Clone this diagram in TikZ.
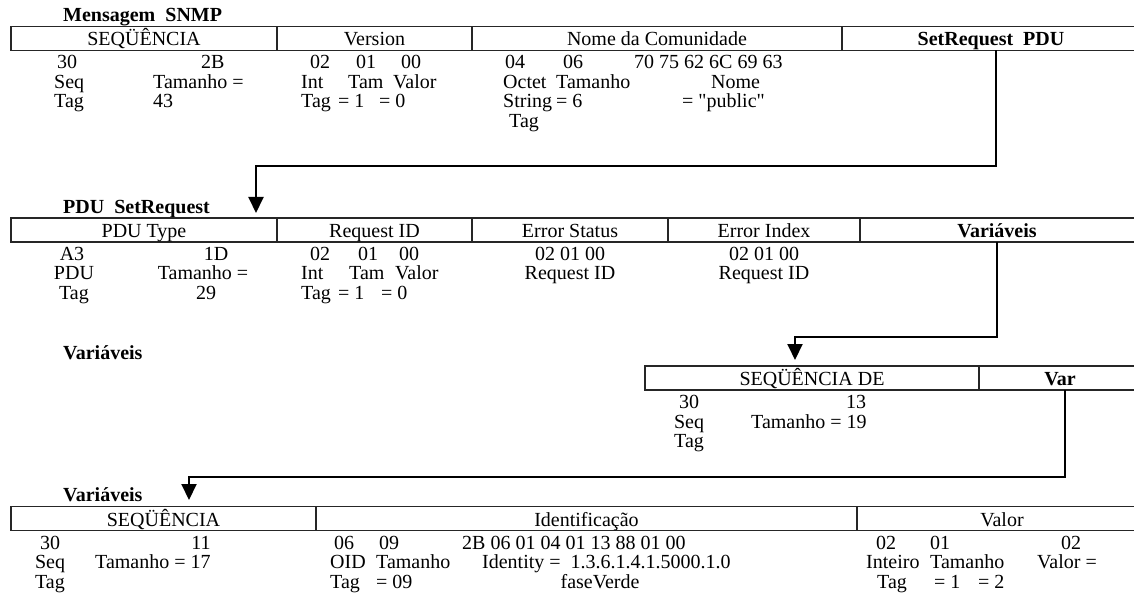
\documentclass[tikz,border=0pt]{standalone}
\usepackage{fontspec}
\setmainfont{Liberation Serif}
\newfontfamily\plainq{Liberation Serif}
\usetikzlibrary{arrows.meta}
\begin{document}
\begin{tikzpicture}[x=1pt,y=-1pt,
  txt/.style={inner sep=0pt, anchor=base west, font=\fontsize{20}{24}\selectfont},
  ctxt/.style={inner sep=0pt, anchor=base, font=\fontsize{20}{24}\selectfont},
  btxt/.style={inner sep=0pt, anchor=base, font=\fontsize{20}{24}\selectfont\bfseries},
  ttl/.style={inner sep=0pt, anchor=base west, font=\fontsize{20}{24}\selectfont\bfseries},
  bar/.style={line width=1.6pt, draw=black!85},
  conn/.style={line width=2pt, -{Triangle[width=15pt,length=16pt]}, line join=miter},
]
\useasboundingbox (0,0) rectangle (1134,601);

% ---------- Row 1 : Mensagem SNMP ----------
\node[ttl] (t1) at (63,22) {Mensagem\ \ SNMP};
\draw[bar] (1134,26.5) -- (11,26.5) -- (11,50.5) -- (1134,50.5);
\draw[bar] (277,26.5) -- (277,50.5);
\draw[bar] (472,26.5) -- (472,50.5);
\draw[bar] (842,26.5) -- (842,50.5);
\node[ctxt] (h11) at (144,46) {SEQÜÊNCIA};
\node[ctxt] (h12) at (374.5,46) {Version};
\node[ctxt] (h13) at (657,46) {Nome da Comunidade};
\node[btxt] (h14) at (991,46) {SetRequest\ \ PDU};

\node[txt] (d1a) at (57,69) {30};
\node[txt] (d1b) at (201,69) {2B};
\node[txt] (d1c) at (54,88.5) {Seq};
\node[txt] (d1d) at (153,88.5) {Tamanho =};
\node[txt] (d1e) at (54,108) {Tag};
\node[txt] (d1f) at (153,108) {43};

\node[txt] (v1a) at (310,69) {02};
\node[txt] (v1b) at (356,69) {01};
\node[txt] (v1c) at (401,69) {00};
\node[txt] (v1d) at (301,88.5) {Int};
\node[txt] (v1e) at (348,88.5) {Tam};
\node[txt] (v1f) at (393,88.5) {Valor};
\node[txt] (v1g) at (301,108) {Tag};
\node[txt] (v1h) at (338,108) {= 1};
\node[txt] (v1i) at (379,108) {= 0};

\node[txt] (c1a) at (505,69) {04};
\node[txt] (c1b) at (563,69) {06};
\node[txt] (c1c) at (634,69) {70 75 62 6C 69 63};
\node[txt] (c1d) at (503,88.5) {Octet};
\node[txt] (c1e) at (556,88.5) {Tamanho};
\node[txt] (c1f) at (711,88.5) {Nome};
\node[txt] (c1g) at (503,108) {String};
\node[txt] (c1h) at (556,108) {= 6};
\node[txt] (c1i) at (682,108) {= {\plainq "public"}};
\node[txt] (c1j) at (509,127.5) {Tag};

% ---------- Row 2 : PDU SetRequest ----------
\node[ttl] (t2) at (63,214) {PDU\ \ SetRequest};
\draw[bar] (1134,218) -- (11,218) -- (11,242) -- (1134,242);
\draw[bar] (277,218) -- (277,242);
\draw[bar] (472,218) -- (472,242);
\draw[bar] (668,218) -- (668,242);
\draw[bar] (860,218) -- (860,242);
\node[ctxt] (h21) at (144,237.5) {PDU Type};
\node[ctxt] (h22) at (374.5,237.5) {Request ID};
\node[ctxt] (h23) at (570,237.5) {Error Status};
\node[ctxt] (h24) at (764,237.5) {Error Index};
\node[btxt] (h25) at (997,237.5) {Variáveis};

\node[ctxt] (d2a) at (72,260.5) {A3};
\node[ctxt] (d2b) at (216,260.5) {1D};
\node[ctxt] (d2c) at (74,280) {PDU};
\node[ctxt] (d2d) at (203,280) {Tamanho =};
\node[ctxt] (d2e) at (74,299.5) {Tag};
\node[ctxt] (d2f) at (206,299.5) {29};

\node[txt] (r2a) at (310,260.5) {02};
\node[txt] (r2b) at (358,260.5) {01};
\node[txt] (r2c) at (399,260.5) {00};
\node[txt] (r2d) at (301,280) {Int};
\node[txt] (r2e) at (349,280) {Tam};
\node[txt] (r2f) at (395,280) {Valor};
\node[txt] (r2g) at (301,299.5) {Tag};
\node[txt] (r2h) at (338,299.5) {= 1};
\node[txt] (r2i) at (381,299.5) {= 0};

\node[ctxt] (e2a) at (570,260.5) {02 01 00};
\node[ctxt] (e2b) at (570,280) {Request ID};
\node[ctxt] (i2a) at (764,260.5) {02 01 00};
\node[ctxt] (i2b) at (764,280) {Request ID};

% ---------- Row 3 : Variaveis ----------
\node[ttl] (t3) at (63,359.5) {Variáveis};
\draw[bar] (1134,366) -- (645,366) -- (645,390) -- (1134,390);
\draw[bar] (979,366) -- (979,390);
\node[ctxt] (h31) at (812,385.5) {SEQÜÊNCIA DE};
\node[btxt] (h32) at (1060,385.5) {Var};

\node[ctxt] (d3a) at (689,408.5) {30};
\node[ctxt] (d3b) at (856,408.5) {13};
\node[ctxt] (d3c) at (689,428) {Seq};
\node[txt] (d3d) at (751,428) {Tamanho = 19};
\node[ctxt] (d3e) at (689,447.5) {Tag};

% ---------- Row 4 : Variaveis ----------
\node[ttl] (t4) at (63,501) {Variáveis};
\draw[bar] (1134,506.5) -- (11,506.5) -- (11,530.5) -- (1134,530.5);
\draw[bar] (316,506.5) -- (316,530.5);
\draw[bar] (857,506.5) -- (857,530.5);
\node[ctxt] (h41) at (163.5,526) {SEQÜÊNCIA};
\node[ctxt] (h42) at (586.5,526) {Identificação};
\node[ctxt] (h43) at (1002,526) {Valor};

\node[ctxt] (d4a) at (50,549) {30};
\node[ctxt] (d4b) at (201,549) {11};
\node[ctxt] (d4c) at (50,568.5) {Seq};
\node[txt] (d4d) at (95,568.5) {Tamanho = 17};
\node[ctxt] (d4e) at (50,588) {Tag};

\node[txt] (o4a) at (334,549) {06};
\node[txt] (o4b) at (379,549) {09};
\node[txt] (o4c) at (462,549) {2B 06 01 04 01 13 88 01 00};
\node[txt] (o4d) at (330,568.5) {OID};
\node[txt] (o4e) at (376,568.5) {Tamanho};
\node[txt] (o4f) at (482,568.5) {Identity =\ \ 1.3.6.1.4.1.5000.1.0};
\node[txt] (o4g) at (330,588) {Tag};
\node[txt] (o4h) at (376,588) {= 09};
\node[ctxt] (o4i) at (600,588) {faseVerde};

\node[txt] (w4a) at (876,549) {02};
\node[txt] (w4b) at (930,549) {01};
\node[txt] (w4c) at (1061,549) {02};
\node[txt] (w4d) at (866,568.5) {Inteiro};
\node[txt] (w4e) at (930,568.5) {Tamanho};
\node[txt] (w4f) at (1037,568.5) {Valor =};
\node[txt] (w4g) at (877,588) {Tag};
\node[txt] (w4h) at (934,588) {= 1};
\node[txt] (w4i) at (978,588) {= 2};

% ---------- Connectors ----------
\coordinate (a1s) at (996,50.5);
\coordinate (a1m) at (600,166.5);
\coordinate (a1e) at (256,213);
\draw[conn] (a1s) |- (a1m) -| (a1e);

\coordinate (a2s) at (997,242);
\coordinate (a2m) at (900,337);
\coordinate (a2e) at (795,360);
\draw[conn] (a2s) |- (a2m) -| (a2e);

\coordinate (a3s) at (1065,390);
\coordinate (a3m) at (600,477);
\coordinate (a3e) at (189,500);
\draw[conn] (a3s) |- (a3m) -| (a3e);
\end{tikzpicture}
\end{document}
